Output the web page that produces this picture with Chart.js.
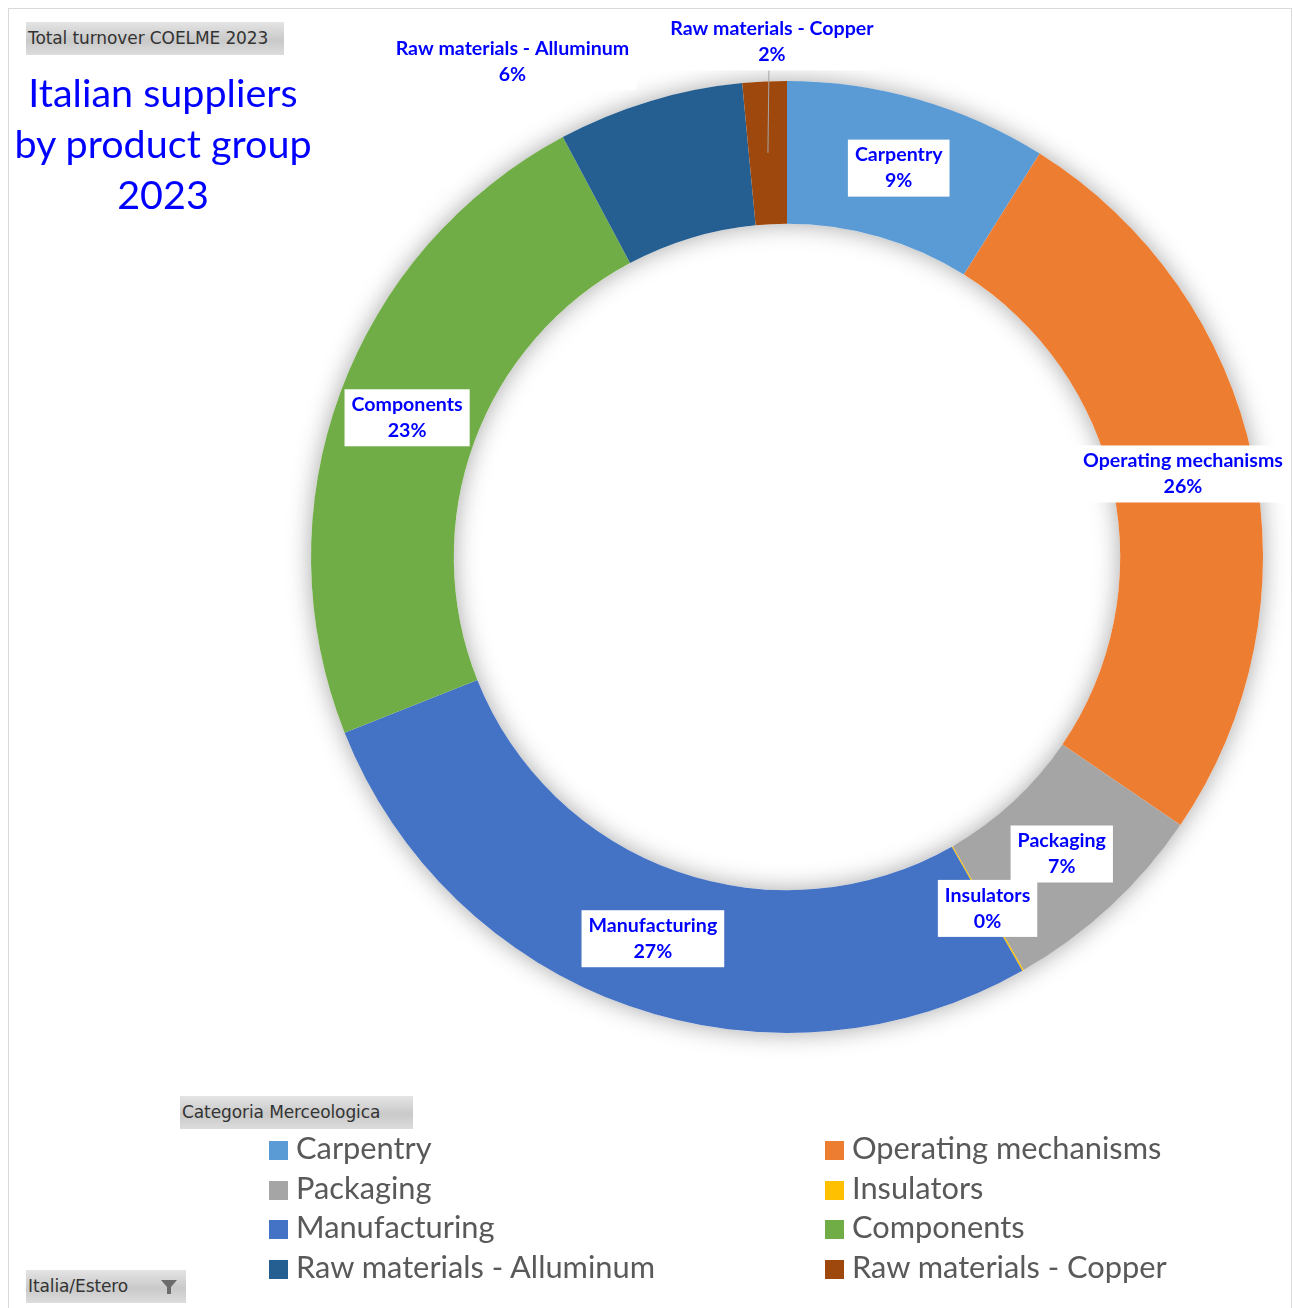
<!DOCTYPE html>
<html lang="en">
<head>
  <meta charset="UTF-8" />
  <title>Italian suppliers by product group 2023</title>
  <script src="https://cdn.jsdelivr.net/npm/chart.js"></script>
  <style>
    html, body { margin: 0; padding: 0; background: #fff; }
    .page { position: relative; width: 1293px; height: 1308px; overflow: hidden; font-family: Lato, sans-serif; }
    .frame { position: absolute; left: 8px; top: 8px; width: 1282px; height: 1320px; border: 1px solid #d9d9d9; }
    #chart { position: absolute; left: 0; top: 0; }
    .title { position: absolute; left: 8px; top: 66px; width: 310px; text-align: center; color: #0000ff; font-size: 39.5px; line-height: 51px; }
    .btn { position: absolute; height: 33px; line-height: 33px; font-family: "DejaVu Sans", sans-serif; font-size: 17px; color: #333;
           background: linear-gradient(#e4e4e4, #c9c9c9 55%, #dcdcdc); padding-left: 2px; box-sizing: border-box; letter-spacing: -0.1px; }
    .funnel { position: absolute; right: 6px; top: 6px; width: 22px; height: 22px; }
    .legend-item { position: absolute; height: 40px; line-height: 40px; font-size: 30.8px; color: #595959; white-space: nowrap; }
    .legend-item i { display: inline-block; width: 19px; height: 19px; margin-right: 8px; vertical-align: -1px; }
  </style>
</head>
<body>
<div class="page">
  <div class="frame"></div>
  <canvas id="chart" width="1293" height="1308"></canvas>
  <div class="btn" style="left:26px; top:22px; width:258px;">Total turnover COELME 2023</div>
  <div class="title">Italian suppliers<br>by product group<br>2023</div>
  <div class="btn" style="left:180px; top:1096px; width:233px;">Categoria Merceologica</div>
  <div class="btn" style="left:26px; top:1270px; width:160px;">Italia/Estero
    <svg class="funnel" viewBox="0 0 22 22"><path d="M3 4 H19 L13 11 V18 H9 V11 Z" fill="#6b6b6b"/></svg>
  </div>
  <div id="legend"></div>
</div>

<script>
  const categories = ['Carpentry', 'Operating mechanisms', 'Packaging', 'Insulators',
                      'Manufacturing', 'Components', 'Raw materials - Alluminum', 'Raw materials - Copper'];
  const shares = [8.9, 25.6, 7.2, 0.05, 27.2, 23.2, 6.3, 1.5];
  const colors = ['#5b9bd5', '#ed7d31', '#a5a5a5', '#ffc000', '#4472c4', '#70ad47', '#255e91', '#9e480e'];
  // legend order: two columns, read row by row
  const legendOrder = [0, 1, 2, 3, 4, 5, 6, 7];

  // labels that were dragged off the ring (pixel shift from the slice centre)
  const labelShift = { 6: [-158, -108], 7: [4, -111] };
  const leaderLines = [7];

  const total = shares.reduce((a, b) => a + b, 0);
  const pct = v => Math.round(v * 100 / total) + '%';

  // soft shadow behind the whole ring
  const ringShadow = {
    id: 'ringShadow',
    beforeDatasetsDraw(chart) {
      const arc = chart.getDatasetMeta(0).data[0];
      if (!arc) return;
      const { x, y, outerRadius, innerRadius } = arc.getProps(['x', 'y', 'outerRadius', 'innerRadius'], true);
      const ctx = chart.ctx;
      ctx.save();
      ctx.shadowColor = 'rgba(0,0,0,0.35)';
      ctx.shadowBlur = 24;
      ctx.fillStyle = '#ffffff';
      ctx.beginPath();
      ctx.arc(x, y, outerRadius, 0, Math.PI * 2);
      ctx.arc(x, y, innerRadius, 0, Math.PI * 2, true);
      ctx.fill();
      ctx.restore();
    }
  };

  // boxed data labels: name + percentage
  const boxLabels = {
    id: 'boxLabels',
    afterDatasetsDraw(chart) {
      const ctx = chart.ctx;
      const meta = chart.getDatasetMeta(0);
      ctx.save();
      ctx.font = 'bold 19.6px Lato, sans-serif';
      ctx.textAlign = 'center';
      ctx.textBaseline = 'middle';
      meta.data.forEach((arc, i) => {
        const c = arc.getCenterPoint();
        const s = labelShift[i] || [0, 0];
        const lx = c.x + s[0], ly = c.y + s[1];
        const name = categories[i], val = pct(shares[i]);
        const w = Math.max(ctx.measureText(name).width, ctx.measureText(val).width) + 14;
        const h = 57;
        if (leaderLines.includes(i)) {
          ctx.strokeStyle = '#a6a6a6';
          ctx.lineWidth = 1;
          ctx.beginPath();
          ctx.moveTo(c.x, c.y);
          ctx.lineTo(lx - 3, ly + h / 2);
          ctx.stroke();
        }
        ctx.fillStyle = '#ffffff';
        ctx.fillRect(lx - w / 2, ly - h / 2, w, h);
        ctx.fillStyle = '#0000ff';
        ctx.fillText(name, lx, ly - 13);
        ctx.fillText(val, lx, ly + 13);
      });
      ctx.restore();
    }
  };

  const chart = new Chart(document.getElementById('chart'), {
    type: 'doughnut',
    data: {
      labels: categories,
      datasets: [{
        data: shares,
        backgroundColor: colors,
        borderWidth: 0
      }]
    },
    options: {
      responsive: false,
      animation: false,
      cutout: '70%',
      layout: { padding: { left: 311, right: 30, top: 81, bottom: 275 } },
      plugins: { legend: { display: false }, tooltip: { enabled: false } }
    },
    plugins: [ringShadow, boxLabels]
  });

  // legend in two columns
  const legend = document.getElementById('legend');
  legendOrder.forEach((idx, k) => {
    const item = document.createElement('div');
    item.className = 'legend-item';
    item.style.left = (k % 2 === 0 ? 269 : 825) + 'px';
    item.style.top = (1128 + Math.floor(k / 2) * 39.7) + 'px';
    item.innerHTML = '<i style="background:' + colors[idx] + '"></i>' + categories[idx];
    legend.appendChild(item);
  });
</script>
</body>
</html>
